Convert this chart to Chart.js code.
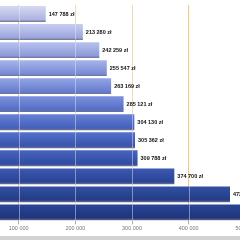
<!DOCTYPE html>
<html lang="pl">
<head>
  <meta charset="UTF-8">
  <title>Wykres</title>
  <script src="https://cdn.jsdelivr.net/npm/chart.js"></script>
  <style>
    html, body { margin: 0; padding: 0; background: #fff; }
    #wrap { position: relative; width: 240px; height: 240px; overflow: hidden; }
    #c { position: absolute; left: -38px; top: 0; }
    #bar { position: absolute; left: 0; bottom: 0; width: 240px; height: 4px; background: #d2d2d2; }
  </style>
</head>
<body>
  <div id="wrap">
    <canvas id="c" width="340" height="240"></canvas>
    <div id="bar"></div>
  </div>

  <script>
    // dane
    const kategorie = ['A', 'B', 'C', 'D', 'E', 'F', 'G', 'H', 'I', 'J', 'K', 'L'];
    const wartosci = [147788, 213280, 242259, 255547, 263169, 285121, 304130, 305362, 309788, 374700, 472950, 560000];
    const etykietyOsi = [0, 100000, 200000, 300000, 400000, 500000, 600000];

    // kolory słupków (góra / dół)
    const koloryGora = ['#d6d9f2', '#c8cdf0', '#b9c2ee', '#a7b5ea', '#93a5e5', '#7c92de', '#6681d6', '#5471cc', '#4764c0', '#3c58b2', '#3350a4', '#2b4697'];
    const koloryDol = ['#acb3e0', '#9ba6de', '#8b9ada', '#798bd5', '#667cce', '#546dc6', '#4460bb', '#3854ad', '#304ba0', '#2a4393', '#243c87', '#1f357b'];

    const fmt = v => String(v).replace(/\B(?=(\d{3})+(?!\d))/g, ' ');

    const etykiety = {
      id: 'etykiety',
      afterDatasetsDraw(chart) {
        const ctx = chart.ctx;
        const meta = chart.getDatasetMeta(0);
        const xs = chart.scales.x;
        const area = chart.chartArea;
        ctx.save();
        // jasne linie siatki na słupkach
        ctx.beginPath();
        ctx.rect(area.left, area.top, area.right - area.left, area.bottom - area.top);
        ctx.clip();
        ctx.strokeStyle = 'rgba(235,238,255,0.45)';
        ctx.lineWidth = 1;
        etykietyOsi.forEach(v => {
          const x = Math.round(xs.getPixelForValue(v)) + 0.5;
          ctx.beginPath();
          ctx.moveTo(x, area.top);
          ctx.lineTo(x, area.bottom);
          ctx.stroke();
        });
        ctx.restore();

        ctx.save();
        ctx.font = 'bold 5.5px "Liberation Sans", Arial, sans-serif';
        ctx.fillStyle = '#111';
        ctx.textBaseline = 'middle';
        meta.data.forEach((el, i) => {
          ctx.fillText(fmt(wartosci[i]) + ' zł', el.x + 3, el.y);
        });
        ctx.restore();
      }
    };

    const ctx = document.getElementById('c').getContext('2d');
    new Chart(ctx, {
      type: 'bar',
      data: {
        labels: kategorie,
        datasets: [{
          data: wartosci,
          backgroundColor: function(context) {
            const chart = context.chart;
            const i = context.dataIndex;
            if (!chart.chartArea || i === undefined || !chart.scales.y) return koloryDol[i] || '#3050a0';
            const y = chart.scales.y.getPixelForValue(i);
            const g = chart.ctx.createLinearGradient(0, y - 8, 0, y + 8);
            g.addColorStop(0, koloryGora[i]);
            g.addColorStop(0.85, koloryDol[i]);
            g.addColorStop(1, '#6f7390');
            return g;
          },
          borderWidth: 0,
          barPercentage: 0.88,
          categoryPercentage: 1
        }]
      },
      options: {
        indexAxis: 'y',
        responsive: false,
        animation: false,
        layout: { padding: { top: 5, bottom: 7, left: 0, right: 0 } },
        plugins: {
          legend: { display: false },
          tooltip: { enabled: false }
        },
        scales: {
          y: { display: false },
          x: {
            min: 0,
            max: 600000,
            afterFit(scale) { scale.paddingLeft = 0; scale.paddingRight = 0; },
            afterBuildTicks(scale) { scale.ticks = etykietyOsi.map(v => ({ value: v })); },
            border: { display: false },
            grid: {
              color: 'rgba(243,196,95,0.85)',
              lineWidth: 1,
              tickColor: '#aaa',
              tickLength: 3,
              drawTicks: true
            },
            ticks: {
              color: '#777',
              padding: 1,
              maxRotation: 0,
              font: { size: 5.5, family: '"Liberation Sans", Arial, sans-serif' },
              callback: v => fmt(v)
            }
          }
        }
      },
      plugins: [etykiety]
    });
  </script>
</body>
</html>
